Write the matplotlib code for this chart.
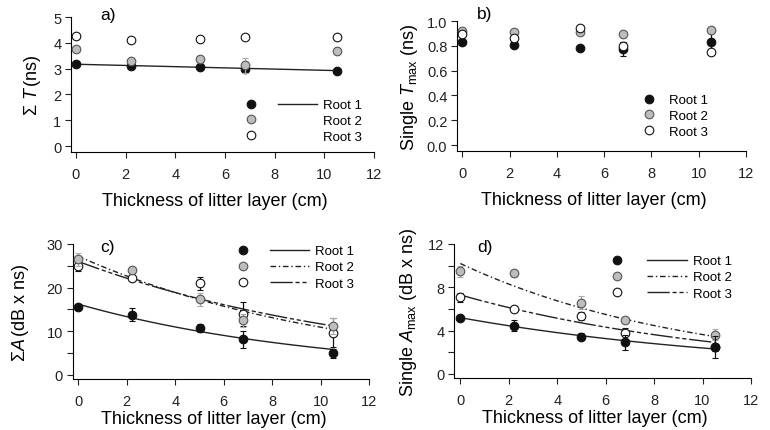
import numpy as np
import matplotlib
matplotlib.use('Agg')
import matplotlib.pyplot as plt
from matplotlib.lines import Line2D
from matplotlib.legend_handler import HandlerBase
from matplotlib.ticker import MultipleLocator, FormatStrFormatter

plt.rcParams['font.family'] = ['Liberation Sans', 'DejaVu Sans']
plt.rcParams['mathtext.fontset'] = 'custom'
plt.rcParams['mathtext.rm'] = 'Liberation Sans'
plt.rcParams['mathtext.it'] = 'Liberation Sans:italic'
plt.rcParams['mathtext.bf'] = 'Liberation Sans:bold'

# ---------------- data ----------------
thickness = [0, 2.2, 5, 6.8, 10.5]
root_labels = ['Root 1', 'Root 2', 'Root 3']
xticks = [0, 2, 4, 6, 8, 10, 12]

# a) sum T (ns)
sumT_r1 = [3.17, 3.10, 3.08, 2.98, 2.91]
sumT_r2 = [3.75, 3.29, 3.36, 3.13, 3.67]
sumT_r3 = [4.26, 4.11, 4.13, 4.24, 4.24]
sumT_err_r1 = [0.04, 0.05, 0.04, 0.08, 0.04]
sumT_err_r2 = [0.04, 0.08, 0.05, 0.30, 0.04]
sumT_err_r3 = [0.03, 0.03, 0.03, 0.03, 0.03]
sumT_fit_r1 = [3.17, -0.0235]          # intercept, slope

# b) single Tmax (ns)
tmax_r1 = [0.833, 0.806, 0.780, 0.774, 0.830]
tmax_r2 = [0.917, 0.914, 0.912, 0.898, 0.930]
tmax_r3 = [0.898, 0.863, 0.945, 0.800, 0.753]
tmax_err_r1 = [0.010, 0.010, 0.010, 0.060, 0.095]
tmax_err_r2 = [0.010, 0.010, 0.010, 0.010, 0.010]
tmax_err_r3 = [0.020, 0.020, 0.010, 0.030, 0.010]

# c) sum A (dB x ns)
sumA_r1 = [15.45, 13.8, 10.7, 8.1, 4.9]
sumA_r2 = [26.5, 24.1, 17.3, 12.5, 11.1]
sumA_r3 = [24.9, 22.2, 21.0, 13.9, 9.6]
sumA_err_r1 = [0.5, 1.5, 1.0, 2.0, 1.1]
sumA_err_r2 = [1.5, 0.5, 1.5, 1.5, 1.8]
sumA_err_r3 = [1.2, 0.6, 1.5, 2.7, 3.3]
sumA_fit = [[16.2, 0.0978], [27.2, 0.0915], [26.0, 0.0802]]   # a*exp(-b*x)

# d) single Amax (dB x ns)
amax_r1 = [5.2, 4.46, 3.45, 2.92, 2.52]
amax_r2 = [9.48, 9.29, 6.58, 4.98, 3.63]
amax_r3 = [7.08, 5.97, 5.35, 3.75, 2.46]
amax_err_r1 = [0.2, 0.5, 0.3, 0.7, 1.0]
amax_err_r2 = [0.5, 0.3, 0.6, 0.3, 0.5]
amax_err_r3 = [0.4, 0.2, 0.4, 0.5, 0.3]
amax_fit = [[5.2, 0.0773], [10.2, 0.103], [7.3, 0.0873]]

# ---------------- styles ----------------
FACE = ['#111111', '#bdbdbd', 'white']
ECOL = ['#111111', '#555555', '#111111']
ERRC = ['#111111', '#aaaaaa', '#111111']
DASHES = [None, [4, 2, 1, 2], [16, 2, 3, 2, 3, 2]]
MS = 6.2
TICK_FS = 10.5
LAB_FS = 13
LEG_FS = 9.5

W, H = 770, 431
fig = plt.figure(figsize=(W / 100, H / 100), dpi=100)


def px_axes(l, r, t, b):
    return fig.add_axes([l / W, 1 - b / H, (r - l) / W, (b - t) / H])


class MarkerLineHandler(HandlerBase):
    def create_artists(self, legend, orig_handle, xdescent, ydescent,
                       width, height, fontsize, trans):
        mk, idx, has_line, split = orig_handle
        y = height / 2 - ydescent
        arts = []
        mx = -xdescent + (0.09 * width if split else width / 2)
        m = Line2D([mx], [y], linestyle='none', marker='o',
                   markersize=mk.get_markersize(),
                   markerfacecolor=mk.get_markerfacecolor(),
                   markeredgecolor=mk.get_markeredgecolor(),
                   markeredgewidth=mk.get_markeredgewidth())
        m.set_transform(trans)
        arts.append(m)
        if has_line:
            l = Line2D([-xdescent + 0.47 * width, -xdescent + width], [y, y],
                       color='#222222', linewidth=1.0)
            if DASHES[idx]:
                l.set_dashes(DASHES[idx])
            l.set_transform(trans)
            arts.append(l)
        return arts


def style_axes(ax, xlim, ylim, yticks, yminor=None):
    ax.set_xlim(*xlim)
    ax.set_ylim(*ylim)
    ax.set_xticks(xticks)
    ax.set_yticks(yticks)
    if yminor:
        ax.yaxis.set_minor_locator(MultipleLocator(yminor))
    for s in ['top', 'right']:
        ax.spines[s].set_visible(False)
    for s in ['left', 'bottom']:
        ax.spines[s].set_linewidth(0.8)
    ax.tick_params(which='both', direction='out', length=4, width=0.8,
                   labelsize=TICK_FS, pad=3, colors='#222222')
    ax.tick_params(axis='x', pad=7)


def plot_panel(ax, ys, errs, fits, fitkind, line_roots, split=True,
               zorders=(3, 4, 5)):
    for i in range(3):
        ax.errorbar(thickness, ys[i], yerr=errs[i], fmt='o', ms=MS,
                    mfc=FACE[i], mec=ECOL[i], mew=0.8, ecolor=ERRC[i],
                    elinewidth=0.9, capsize=2.2, capthick=0.9,
                    zorder=zorders[i])
    xf = np.linspace(0, 10.5, 100)
    for i, p in enumerate(fits):
        if p is None:
            continue
        if fitkind == 'lin':
            yf = p[0] + p[1] * xf
        else:
            yf = p[0] * np.exp(-p[1] * xf)
        ln, = ax.plot(xf, yf, color='#222222', lw=1.0, zorder=2)
        if DASHES[i]:
            ln.set_dashes(DASHES[i])
    handles = []
    for i in range(3):
        mk = Line2D([], [], marker='o', ms=MS, mfc=FACE[i], mec=ECOL[i],
                    mew=0.8, linestyle='none')
        handles.append((mk, i, i in line_roots, split))
    return handles


def add_legend(ax, handles, left_px, top_px, hl, pad=0.45, spacing=0.26):
    return ax.legend(handles, root_labels,
                     handler_map={tuple: MarkerLineHandler()},
                     loc='upper left',
                     bbox_to_anchor=(left_px / W, 1 - top_px / H),
                     bbox_transform=fig.transFigure, frameon=False,
                     fontsize=LEG_FS, handlelength=hl, handletextpad=pad,
                     borderpad=0, borderaxespad=0, labelspacing=spacing)


XLAB = 'Thickness of litter layer (cm)'

# ---------------- panel a ----------------
ax_a = px_axes(71, 374, 18, 153)
style_axes(ax_a, (-0.2, 12), (-0.23, 5), [0, 1, 2, 3, 4, 5])
h = plot_panel(ax_a, [sumT_r1, sumT_r2, sumT_r3],
               [sumT_err_r1, sumT_err_r2, sumT_err_r3],
               [sumT_fit_r1, None, None], 'lin', [0])
add_legend(ax_a, h, 244, 100, 5.5)
ax_a.set_ylabel(r'$\Sigma\ \mathit{T}\,$(ns)', fontsize=LAB_FS, labelpad=7)
ax_a.set_xlabel(XLAB, fontsize=LAB_FS, labelpad=8, x=0.475)
ax_a.text(0.096, 1.02, 'a)', transform=ax_a.transAxes, fontsize=12.5,
          va='center', ha='left')

# ---------------- panel b ----------------
ax_b = px_axes(457, 746, 22, 152)
style_axes(ax_b, (-0.22, 12), (-0.048, 1.0), [0.0, 0.2, 0.4, 0.6, 0.8, 1.0])
ax_b.yaxis.set_major_formatter(FormatStrFormatter('%.1f'))
h = plot_panel(ax_b, [tmax_r1, tmax_r2, tmax_r3],
               [tmax_err_r1, tmax_err_r2, tmax_err_r3],
               [None, None, None], 'lin', [], split=False)
add_legend(ax_b, h, 642, 95, 1.0, pad=1.05)
ax_b.set_ylabel(r'Single $\mathit{T}_{\mathrm{max}}$ (ns)', fontsize=LAB_FS,
                labelpad=5)
ax_b.set_xlabel(XLAB, fontsize=LAB_FS, labelpad=8, x=0.474)
ax_b.text(0.07, 1.06, 'b)', transform=ax_b.transAxes, fontsize=12.5,
          va='center', ha='left')

# ---------------- panel c ----------------
ax_c = px_axes(72.7, 369.3, 245, 380)
style_axes(ax_c, (-0.23, 12), (-0.99, 30), [0, 10, 20, 30], yminor=5)
h = plot_panel(ax_c, [sumA_r1, sumA_r2, sumA_r3],
               [sumA_err_r1, sumA_err_r2, sumA_err_r3],
               sumA_fit, 'exp', [0, 1, 2], zorders=(5, 4, 3))
add_legend(ax_c, h, 236, 246, 5.5, spacing=0.3)
ax_c.set_ylabel(r'$\Sigma\mathit{A}\,$(dB x ns)', fontsize=LAB_FS, labelpad=11)
ax_c.set_xlabel(XLAB, fontsize=LAB_FS, labelpad=1.5, x=0.475)
ax_c.text(0.092, 0.978, 'c)', transform=ax_c.transAxes, fontsize=12.5,
          va='center', ha='left')

# ---------------- panel d ----------------
ax_d = px_axes(454.3, 751, 245, 379)
style_axes(ax_d, (-0.25, 12), (-0.37, 12), [0, 4, 8, 12], yminor=2)
h = plot_panel(ax_d, [amax_r1, amax_r2, amax_r3],
               [amax_err_r1, amax_err_r2, amax_err_r3],
               amax_fit, 'exp', [0, 1, 2], zorders=(5, 4, 3))
add_legend(ax_d, h, 610.6, 256, 5.8, spacing=0.3)
ax_d.set_ylabel(r'Single $\mathit{A}_{\mathrm{max}}$ (dB x ns)',
                fontsize=LAB_FS, labelpad=7)
ax_d.set_xlabel(XLAB, fontsize=LAB_FS, labelpad=1.5, x=0.475)
ax_d.text(0.078, 0.978, 'd)', transform=ax_d.transAxes, fontsize=12.5,
          va='center', ha='left')

fig.savefig('out.png', dpi=100)
